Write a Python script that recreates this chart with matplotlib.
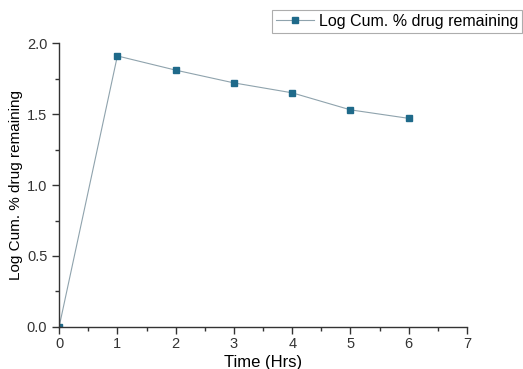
import matplotlib
matplotlib.use("Agg")
import matplotlib.pyplot as plt
from matplotlib.ticker import MultipleLocator, FormatStrFormatter

plt.rcParams['font.family'] = ['Liberation Sans', 'DejaVu Sans']

time_hrs = [0, 1, 2, 3, 4, 5, 6]
log_remaining = [0.0, 1.91, 1.81, 1.72, 1.65, 1.53, 1.47]

fig = plt.figure(figsize=(5.23, 3.69), dpi=100)
ax = fig.add_axes([0.113, 0.114, 0.780, 0.769])

ax.plot(time_hrs, log_remaining, color='#8fa3ad', linewidth=0.8,
        marker='s', markersize=5, markerfacecolor='#1f6a8a',
        markeredgecolor='#1f6a8a', label='Log Cum. % drug remaining')

ax.set_xlim(0, 7)
ax.set_ylim(0, 2.0)
ax.xaxis.set_major_locator(MultipleLocator(1))
ax.xaxis.set_minor_locator(MultipleLocator(0.5))
ax.yaxis.set_major_locator(MultipleLocator(0.5))
ax.yaxis.set_minor_locator(MultipleLocator(0.25))
ax.yaxis.set_major_formatter(FormatStrFormatter('%.1f'))

for side in ('top', 'right'):
    ax.spines[side].set_visible(False)
for side in ('left', 'bottom'):
    ax.spines[side].set_linewidth(1.0)
    ax.spines[side].set_color('#333333')

ax.tick_params(which='major', direction='out', length=5, width=1,
               labelsize=10.5, colors='#333333')
ax.tick_params(axis='x', which='major', pad=2)
ax.tick_params(which='minor', direction='out', length=3, width=1,
               colors='#333333')

ax.set_xlabel('Time (Hrs)', fontsize=12, labelpad=3)
ax.set_ylabel('Log Cum. % drug remaining', fontsize=11, labelpad=3)

leg = ax.legend(loc='upper left', fontsize=11.5, frameon=True, fancybox=False,
                handlelength=2.4, borderpad=0.25, handletextpad=0.3,
                borderaxespad=0)
leg.get_frame().set_edgecolor('#999999')
leg.get_frame().set_linewidth(0.8)
leg.set_bbox_to_anchor((272 / 523, 1 - 10 / 369), transform=fig.transFigure)

fig.savefig('out.png', dpi=100)
